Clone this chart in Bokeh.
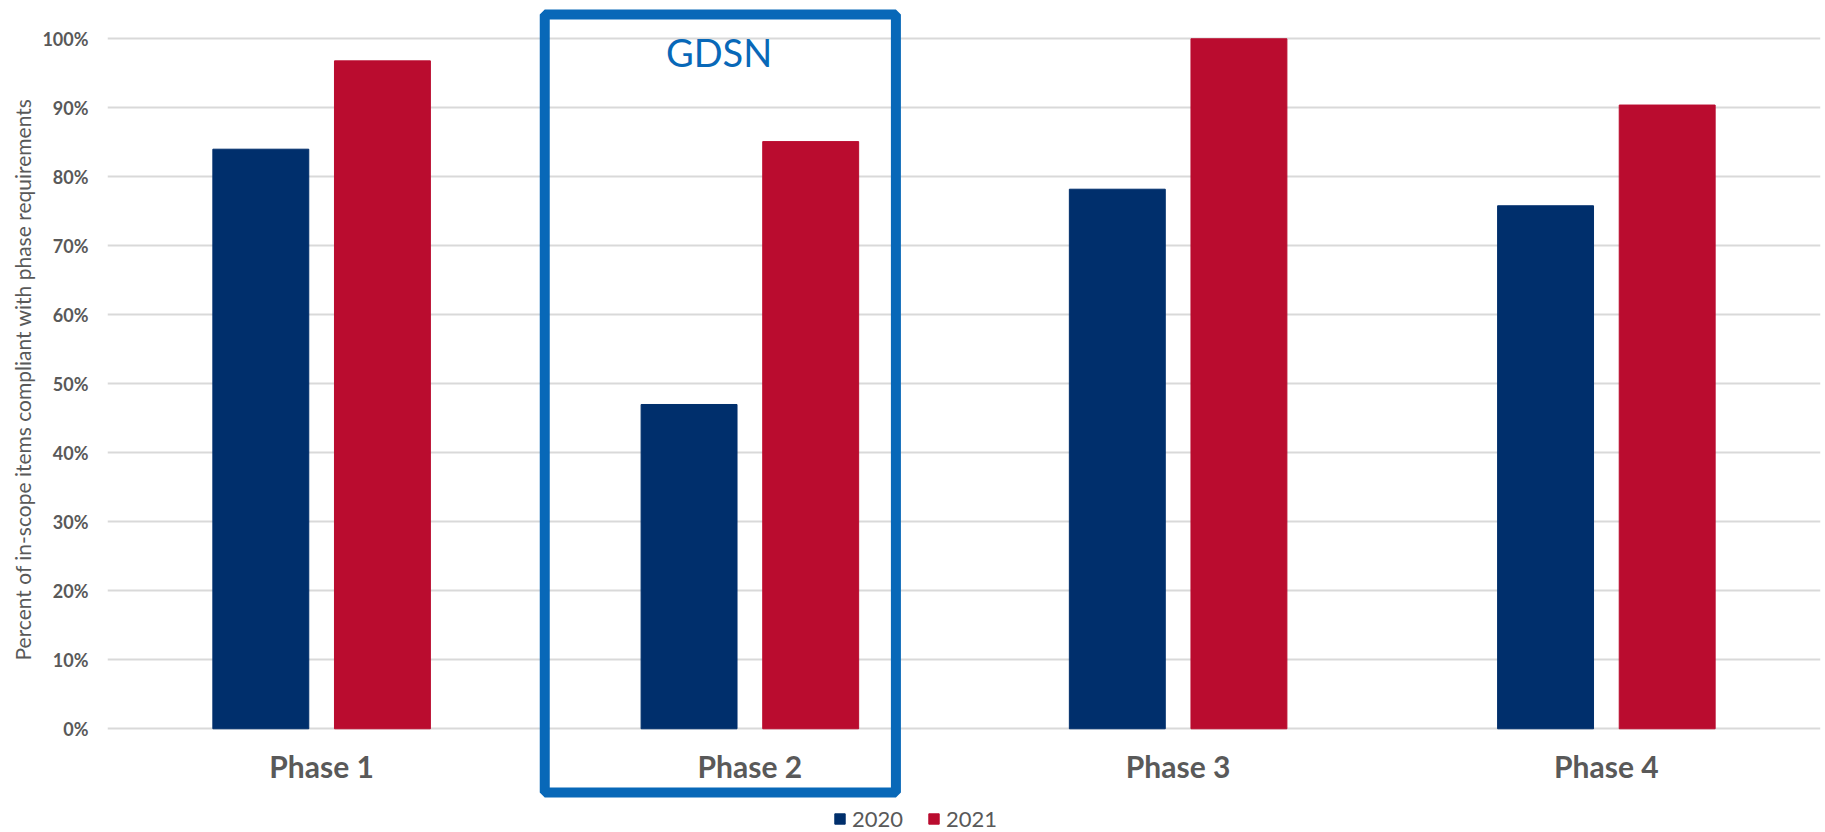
from bokeh.plotting import figure
from bokeh.models import (FactorRange, Range1d, FixedTicker, NumeralTickFormatter,
                          BoxAnnotation, Label, Legend, LegendItem, ColumnDataSource, Title)
from bokeh.core.properties import value
from bokeh.transform import dodge
from bokeh.embed import file_html
from bokeh.resources import INLINE

# ---- data ----
phases = ["Phase 1", "Phase 2", "Phase 3", "Phase 4"]
years = ["2020", "2021"]
values_2020 = [0.840, 0.470, 0.782, 0.758]
values_2021 = [0.968, 0.851, 1.000, 0.904]
y_ticks = [0.0, 0.1, 0.2, 0.3, 0.4, 0.5, 0.6, 0.7, 0.8, 0.9, 1.0]
highlight_phase = "Phase 2"
highlight_label = "GDSN"
y_title = "Percent of in-scope items compliant with phase requirements"

# ---- style ----
NAVY = "#002F6C"
RED = "#BA0C2F"
BLUE = "#0868B8"
GRAY = "#595959"
GRID = "#D9D9D9"
FONT = "Lato"

src = ColumnDataSource(dict(phase=phases, y2020=values_2020, y2021=values_2021,
                            label_y=[-0.0546] * len(phases)))

p = figure(x_range=FactorRange(*phases, range_padding=0),
           y_range=Range1d(-0.1503, 1.0555),
           width=1825, height=832,
           output_backend="svg", toolbar_location=None,
           min_border_left=107, min_border_right=5,
           min_border_top=0, min_border_bottom=0)
p.outline_line_color = None
p.background_fill_color = "white"
p.border_fill_color = "white"

r1 = p.vbar(x=dodge("phase", -0.142, range=p.x_range), top="y2020", bottom=0,
            width=0.224, source=src, fill_color=NAVY, line_color=NAVY)
r2 = p.vbar(x=dodge("phase", 0.142, range=p.x_range), top="y2021", bottom=0,
            width=0.224, source=src, fill_color=RED, line_color=RED)

# category labels (drawn through the categorical scale)
p.text(x="phase", y="label_y", text="phase", source=src, text_align="center",
       text_baseline="middle", text_font=value(FONT), text_font_style="bold",
       text_font_size="30px", text_color=GRAY)

# axes
p.xaxis.visible = False
yax = p.yaxis[0]
yax.ticker = FixedTicker(ticks=y_ticks)
yax.formatter = NumeralTickFormatter(format="0%")
yax.axis_line_color = None
yax.major_tick_line_color = None
yax.minor_tick_line_color = None
yax.major_tick_out = 0
yax.major_label_standoff = 19
yax.major_label_text_font = FONT
yax.major_label_text_font_style = "bold"
yax.major_label_text_font_size = "18px"
yax.major_label_text_color = GRAY

p.add_layout(Title(text=y_title, align="left", offset=172, standoff=10,
                   text_font=FONT, text_font_style="normal", text_font_size="21px",
                   text_color=GRAY), "left")

p.xgrid.grid_line_color = None
p.ygrid.grid_line_color = GRID
p.ygrid.grid_line_width = 2

# highlight box around Phase 2
c = phases.index(highlight_phase) + 0.5
box = BoxAnnotation(left=c - 0.479, right=c + 0.341, top=1.0352, bottom=-0.0923,
                    fill_alpha=0, line_color=BLUE, line_alpha=1, line_width=10)
p.add_layout(box)
p.add_layout(Label(x=c - 0.072, y=0.9806, text=highlight_label, text_align="center",
                   text_baseline="middle", text_font=FONT, text_font_size="38px",
                   text_color=BLUE))

legend = Legend(items=[LegendItem(label=years[0], renderers=[r1]),
                       LegendItem(label=years[1], renderers=[r2])],
                orientation="horizontal", location=(726, 0),
                glyph_width=13, glyph_height=13, label_standoff=6, spacing=24,
                padding=0, margin=0, border_line_color=None,
                background_fill_alpha=0,
                label_text_font=FONT, label_text_font_size="22px",
                label_text_color=GRAY)
p.add_layout(legend)

open("out.html", "w").write(file_html(p, INLINE))
